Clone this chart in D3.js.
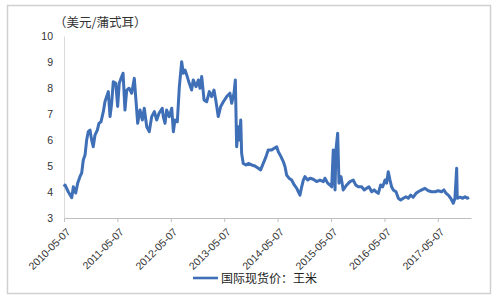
<!DOCTYPE html>
<html>
<head>
<meta charset="utf-8">
<script src="https://cdn.jsdelivr.net/npm/d3@7"></script>
<style>
  body { margin: 0; background: #fff; }
  text { font-family: "Liberation Sans", Arial, sans-serif; }
</style>
</head>
<body>
<svg id="chart" width="500" height="300"></svg>
<script>
// price of corn, USD per bushel
var dates = [
"2010-05-07","2010-05-14","2010-06-05","2010-06-29","2010-07-10","2010-07-26","2010-08-09","2010-08-24","2010-09-05","2010-09-16",
"2010-09-28","2010-10-09","2010-10-20","2010-11-01","2010-11-12","2010-11-23","2010-12-05","2010-12-21","2011-01-01","2011-01-15",
"2011-01-31","2011-02-11","2011-02-23","2011-03-06","2011-03-18","2011-03-29","2011-04-09","2011-04-26","2011-05-09","2011-05-20",
"2011-06-01","2011-06-15","2011-06-28","2011-07-10","2011-07-26","2011-08-13","2011-08-31","2011-09-11","2011-09-23","2011-10-09",
"2011-10-25","2011-11-07","2011-11-24","2011-12-11","2011-12-28","2012-01-15","2012-01-31","2012-02-16","2012-03-09","2012-03-16",
"2012-03-28","2012-04-08","2012-04-26","2012-05-13","2012-05-24","2012-06-04","2012-06-20","2012-07-04","2012-07-20","2012-07-31",
"2012-08-12","2012-08-27","2012-09-10","2012-09-26","2012-10-07","2012-10-26","2012-11-11","2012-11-22","2012-12-04","2012-12-20",
"2013-01-07","2013-01-25","2013-02-10","2013-02-26","2013-03-12","2013-03-27","2013-04-13","2013-05-01","2013-05-24","2013-06-15",
"2013-06-27","2013-07-13","2013-07-22","2013-07-31","2013-08-11","2013-08-18","2013-08-28","2013-09-03","2013-09-14","2013-10-03",
"2013-10-19","2013-11-11","2013-12-03","2013-12-26","2014-01-11","2014-01-29","2014-02-17","2014-03-04","2014-03-28","2014-04-14",
"2014-05-01","2014-05-12","2014-05-30","2014-06-15","2014-06-27","2014-07-08","2014-07-24","2014-08-11","2014-08-29","2014-09-15",
"2014-09-26","2014-10-07","2014-10-19","2014-10-30","2014-11-10","2014-11-29","2014-12-15","2015-01-06","2015-01-29","2015-02-21",
"2015-03-16","2015-03-27","2015-04-15","2015-04-30","2015-05-12","2015-05-23","2015-06-04","2015-06-10","2015-06-22","2015-07-01",
"2015-07-15","2015-07-30","2015-08-23","2015-09-14","2015-10-07","2015-10-23","2015-11-10","2015-12-03","2015-12-21","2016-01-06",
"2016-01-22","2016-02-10","2016-02-27","2016-03-10","2016-03-26","2016-04-11","2016-04-25","2016-05-11","2016-05-22","2016-06-02",
"2016-06-14","2016-06-25","2016-07-06","2016-07-25","2016-08-10","2016-08-26","2016-09-13","2016-10-01","2016-10-17","2016-11-02",
"2016-11-20","2016-12-09","2016-12-24","2017-01-17","2017-02-08","2017-03-03","2017-03-26","2017-04-18","2017-05-10","2017-06-02",
"2017-06-18","2017-07-02","2017-07-18","2017-08-03","2017-08-21","2017-09-01","2017-09-13","2017-09-17","2017-10-06","2017-10-24",
"2017-11-09","2017-11-25","2017-12-06"
];
var prices = [
4.20,4.27,4.01,3.78,4.20,3.96,4.35,4.59,4.73,5.23,
5.42,6.00,6.32,6.38,6.00,5.74,6.19,6.38,6.64,6.70,
7.09,7.47,7.67,7.86,6.90,7.41,8.24,8.18,7.29,8.18,
8.37,8.57,7.15,7.92,7.99,7.80,8.37,7.54,6.64,7.15,
6.77,7.22,6.51,6.32,6.90,7.09,6.77,7.03,7.22,6.90,
6.64,7.15,6.90,7.22,6.32,6.77,6.70,8.05,9.01,8.57,
8.69,8.44,8.18,7.92,8.31,8.05,8.31,7.99,8.44,7.54,
7.47,7.86,7.67,7.92,7.47,6.90,7.29,7.47,7.67,7.80,
7.41,7.80,8.31,5.74,6.51,6.00,6.77,5.49,5.10,5.04,
5.10,5.04,5.00,4.91,4.85,5.10,5.36,5.62,5.62,5.68,
5.74,5.55,5.36,5.17,4.97,4.65,4.53,4.46,4.27,4.14,
4.01,3.88,4.20,4.46,4.59,4.46,4.53,4.49,4.40,4.46,
4.40,4.53,4.34,4.27,4.20,5.62,4.08,5.60,6.26,4.34,
4.59,4.08,4.27,4.40,4.46,4.27,4.20,4.20,4.08,4.14,
4.20,4.01,4.08,4.01,3.95,4.27,4.20,4.46,4.34,4.78,
4.46,4.20,4.08,4.01,3.76,3.69,3.76,3.82,3.76,3.88,
3.80,3.95,4.01,4.08,4.14,4.05,4.01,4.01,4.05,4.01,
4.08,3.95,3.88,3.76,3.57,3.76,4.91,3.76,3.80,3.76,
3.82,3.76,3.80
];
var tickDates = ["2010-05-07","2011-05-07","2012-05-07","2013-05-07","2014-05-07","2015-05-07","2016-05-07","2017-05-07"];
var yTicks = [3, 4, 5, 6, 7, 8, 9, 10];
var unitLabel = "（美元/蒲式耳）";
var seriesName = "国际现货价：王米";

var svg = d3.select("svg"),
    width = +svg.attr("width"),
    height = +svg.attr("height");

var parse = d3.timeParse("%Y-%m-%d");
var fmt = d3.timeFormat("%Y-%m-%d");
var data = dates.map(function(d, i) { return { date: parse(d), value: prices[i] }; });

var margin = { left: 64, right: 29, top: 36, bottom: 82 };

// outer frame
svg.append("rect")
    .attr("x", 7.5).attr("y", 5.5)
    .attr("width", 483).attr("height", 288)
    .attr("fill", "#fff")
    .attr("stroke", "#d0d0d0")
    .attr("stroke-width", 1.5);

var x = d3.scaleTime()
    .domain([parse("2010-05-07"), parse("2017-12-20")])
    .range([margin.left, width - margin.right]);

var y = d3.scaleLinear()
    .domain([3, 10])
    .range([height - margin.bottom, margin.top]);

// x axis
var xAxis = svg.append("g")
    .attr("transform", "translate(0," + (height - margin.bottom) + ")")
    .call(d3.axisBottom(x)
        .tickValues(tickDates.map(parse))
        .tickFormat(fmt)
        .tickSize(4)
        .tickSizeOuter(0));
xAxis.select(".domain").attr("stroke", "#bfbfbf");
xAxis.selectAll(".tick line").attr("stroke", "#bfbfbf");
xAxis.selectAll(".tick text")
    .attr("fill", "#333")
    .style("font-size", "10.5px")
    .attr("text-anchor", "end")
    .attr("x", 0)
    .attr("y", 0)
    .attr("dy", "0.35em")
    .attr("transform", "translate(4,12) rotate(-45)");

// y axis
var yAxis = svg.append("g")
    .attr("transform", "translate(" + margin.left + ",0)")
    .call(d3.axisLeft(y)
        .tickValues(yTicks)
        .tickFormat(d3.format("d"))
        .tickSize(0)
        .tickPadding(11));
yAxis.select(".domain").attr("stroke", "#d9d9d9");
yAxis.selectAll(".tick text")
    .attr("fill", "#333")
    .style("font-size", "10.5px");

// unit label
svg.append("text")
    .attr("x", 54)
    .attr("y", 27)
    .attr("fill", "#333")
    .style("font-size", "12.5px")
    .style("font-family", "'Noto Sans CJK SC', sans-serif")
    .text(unitLabel);

// the line
var line = d3.line()
    .x(function(d) { return x(d.date); })
    .y(function(d) { return y(d.value); });

svg.append("path")
    .datum(data)
    .attr("fill", "none")
    .attr("stroke", "#3f6fb6")
    .attr("stroke-width", 3)
    .attr("stroke-linejoin", "round")
    .attr("d", line);

// legend
svg.append("line")
    .attr("x1", 193).attr("x2", 218)
    .attr("y1", 278).attr("y2", 278)
    .attr("stroke", "#3f6fb6")
    .attr("stroke-width", 2.6);
svg.append("text")
    .attr("x", 221)
    .attr("y", 282.5)
    .attr("fill", "#222")
    .style("font-size", "12px")
    .style("font-family", "'Noto Sans CJK SC', sans-serif")
    .text(seriesName);
</script>
</body>
</html>
